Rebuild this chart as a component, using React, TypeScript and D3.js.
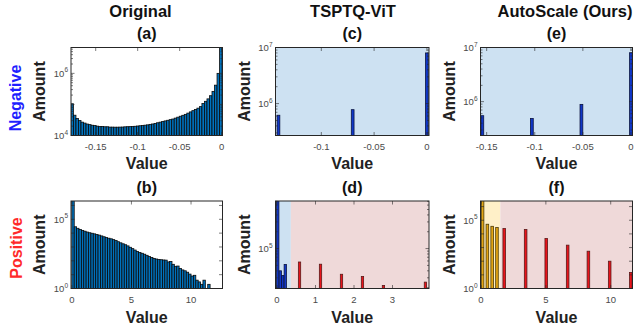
import * as d3 from "d3";

// ---- (a) Original, negative activations: histogram
const negStart = -0.1795;
const negBinWidth = 0.003;
const negCounts = [
  105000, 45000, 35500, 30200, 26900, 25100, 23400, 22400, 21400, 20900,
  20000, 19500, 19500, 19100, 19100, 18600, 18600, 18500, 18500, 18600,
  18700, 19000, 19200, 19300, 19600, 19800, 20200, 20600, 21000, 21500,
  22000, 22800, 23500, 24500, 25700, 26900, 28200, 29500, 30900, 32400,
  33900, 36300, 38900, 41700, 44700, 47900, 52500, 57500, 63100, 69200,
  75900, 85100, 107000, 126000, 151000, 191000, 263000, 417000, 1000000, 8000000,
];

// ---- (b) Original, positive activations: histogram
const posStart = 0;
const posBinWidth = 0.2;
const posCounts = [
  3000000, 28800, 22400, 18600, 15800, 13800, 12000, 10700, 9800, 8900,
  8100, 7200, 6300, 5500, 4800, 4300, 3900, 3400, 2900, 2400,
  2000, 1700, 1450, 1200, 950, 760, 600, 480, 400, 350,
  300, 250, 205, 175, 150, 135, 123, 120, 115, 112,
  83, 89, 56, 40, 42, 28, 22, 19, 15, 11,
  8, 9, 4, 3, 2, 4, 1, 2,
];

// ---- (c) TSPTQ-ViT, negative
const tsNegLevels = [-0.1406, -0.0703, 0];
const tsNegCounts = [620000, 780000, 8000000];

// ---- (d) TSPTQ-ViT, positive
const tsPosSplit = 0.36;
const tsPosLowLevels = [0.02, 0.085, 0.15, 0.215];
const tsPosLowCounts = [1000000, 40000, 33000, 52000];
const tsPosHighLevels = [0.585, 1.13, 1.675, 2.22, 2.765, 3.855];
const tsPosHighCounts = [57500, 52500, 34700, 31600, 21900, 25100];

// ---- (e) AutoScale, negative
const asNegLevels = [-0.1545, -0.103, -0.0515, 0];
const asNegCounts = [550000, 490000, 890000, 8000000];

// ---- (f) AutoScale, positive
const asPosSplit = 1.49;
const asPosLowLevels = [0.12, 0.49, 0.86, 1.23];
const asPosLowCounts = [3000000, 51000, 36000, 29000];
const asPosHighLevels = [1.79, 3.44, 5.03, 6.68, 8.28, 9.92, 11.55];
const asPosHighCounts = [24500, 21000, 4600, 1500, 540, 100, 15];

// axis settings
const xDomA = [-0.1794, 0.001];
const xDomB = [-0.07, 12.64];
const xDomC = [-0.1434, 0.002];
const xDomD = [-0.039, 3.948];
const xDomE = [-0.1564, 0.0016];
const xDomF = [-0.04, 11.68];
const yDomA = [1e4, 6.8e6];
const yDomB = [1, 2.1e6];
const yDomC = [2.7e5, 1e7];
const yDomD = [19300, 7.1e5];
const yDomE = [2.37e5, 1e7];
const yDomF = [1, 2.57e6];
const negTicks = [-0.15, -0.1, -0.05, 0];
const posTicksWide = [0, 5, 10];
const posTicksNarrow = [0, 1, 2, 3];

const titles = ["Original", "TSPTQ-ViT", "AutoScale (Ours)"];
const panelTags = [["(a)", "(b)"], ["(c)", "(d)"], ["(e)", "(f)"]];

const FONT = "'Liberation Sans', Arial, sans-serif";
const HIST_FILL = "#0072BD";
const BLUE_BAR = "#1037c8";
const RED_BAR = "#e8141b";
const GOLD_BAR = "#e3a514";
const BG_BLUE = "#cde1f2";
const BG_PINK = "#efd9d9";
const BG_YELLOW = "#fff0c8";

const colL = [71, 275.5, 480.5];
const colR = [222.5, 429, 632.5];
const rowT = [47.5, 201];
const rowB = [135.5, 288.5];

type Bar = { x0: number; x1: number; count: number; fill: string; stroke: string };
type Region = { from: number; to: number; fill: string };

function histBars(start: number, w: number, counts: number[]): Bar[] {
  return counts.map((c, i) => ({
    x0: start + i * w,
    x1: start + (i + 1) * w,
    count: c,
    fill: HIST_FILL,
    stroke: "#0a0a0a",
  }));
}

function levelBars(levels: number[], counts: number[], w: number, fill: string, stroke: string): Bar[] {
  return levels.map((v, i) => ({ x0: v - w / 2, x1: v + w / 2, count: counts[i], fill, stroke }));
}

interface PanelProps {
  id: string;
  col: number;
  row: number;
  xDomain: number[];
  yDomain: number[];
  xTicks: number[];
  yLabelExps: number[];
  bars: Bar[];
  regions?: Region[];
}

function Panel({ id, col, row, xDomain, yDomain, xTicks, yLabelExps, bars, regions = [] }: PanelProps) {
  const l = colL[col], r = colR[col], t = rowT[row], b = rowB[row];
  const x = d3.scaleLinear().domain(xDomain).range([l, r]);
  const y = d3.scaleLog().domain(yDomain).range([b, t]);
  const lo = Math.floor(Math.log10(yDomain[0]));
  const hi = Math.ceil(Math.log10(yDomain[1]));
  const dense = Math.log10(yDomain[1] / yDomain[0]) < 3.5;
  const yTicks: { v: number; major: boolean }[] = [];
  for (let n = lo; n <= hi; n++) {
    for (let k = 1; k <= (dense ? 9 : 1); k++) {
      const v = k * Math.pow(10, n);
      if (v >= yDomain[0] * 0.999 && v <= yDomain[1] * 1.001) yTicks.push({ v, major: k === 1 });
    }
  }
  const tc = "#262626";
  return (
    <g>
      <defs>
        <clipPath id={id}>
          <rect x={l} y={t} width={r - l} height={b - t} />
        </clipPath>
      </defs>
      <g clipPath={`url(#${id})`}>
        {regions.map((g, i) => (
          <rect key={i} x={x(g.from)} y={t} width={x(g.to) - x(g.from)} height={b - t} fill={g.fill} />
        ))}
        {bars
          .filter((d) => d.count > yDomain[0])
          .map((d, i) => {
            const top = y(d.count);
            return (
              <rect
                key={i}
                x={x(d.x0)}
                y={top}
                width={x(d.x1) - x(d.x0)}
                height={b - top}
                fill={d.fill}
                stroke={d.stroke}
                strokeWidth={0.8}
              />
            );
          })}
      </g>
      {yTicks.map((tk, i) => {
        const len = tk.major ? 3.5 : 2;
        const yy = y(tk.v);
        return (
          <g key={i} stroke={tc} strokeWidth={0.6}>
            <line x1={l} x2={l + len} y1={yy} y2={yy} />
            <line x1={r} x2={r - len} y1={yy} y2={yy} />
          </g>
        );
      })}
      {xTicks.map((v, i) => (
        <g key={i}>
          <line x1={x(v)} x2={x(v)} y1={b} y2={b - 3.5} stroke={tc} strokeWidth={0.6} />
          <line x1={x(v)} x2={x(v)} y1={t} y2={t + 3.5} stroke={tc} strokeWidth={0.6} />
          <text x={x(v)} y={b + 14.5} textAnchor="middle" fontSize={9.5} fill="#4a4a4a" fontFamily={FONT}>
            {String(v)}
          </text>
        </g>
      ))}
      {yLabelExps.map((e) => (
        <text key={e} x={l - 3} y={y(Math.pow(10, e)) + 3.5} textAnchor="end" fontSize={9.5} fill="#4a4a4a" fontFamily={FONT}>
          10
          <tspan dy={-4.5} fontSize={6.5}>
            {e}
          </tspan>
        </text>
      ))}
      <rect x={l} y={t} width={r - l} height={b - t} fill="none" stroke={tc} strokeWidth={1} />
    </g>
  );
}

export default function App() {
  const amountX = [45, 250, 455];
  return (
    <svg width={640} height={327} style={{ position: "absolute", left: 0, top: 0, background: "#fff" }} fontFamily={FONT}>
      <Panel id="pa" col={0} row={0} xDomain={xDomA} yDomain={yDomA} xTicks={negTicks} yLabelExps={[4, 6]}
        bars={histBars(negStart, negBinWidth, negCounts)} />
      <Panel id="pb" col={0} row={1} xDomain={xDomB} yDomain={yDomB} xTicks={posTicksWide} yLabelExps={[0, 5]}
        bars={histBars(posStart, posBinWidth, posCounts)} />
      <Panel id="pc" col={1} row={0} xDomain={xDomC} yDomain={yDomC} xTicks={negTicks.slice(1)} yLabelExps={[6, 7]}
        regions={[{ from: xDomC[0], to: xDomC[1], fill: BG_BLUE }]}
        bars={levelBars(tsNegLevels, tsNegCounts, 0.0026, BLUE_BAR, "#0b1440")} />
      <Panel id="pd" col={1} row={1} xDomain={xDomD} yDomain={yDomD} xTicks={posTicksNarrow} yLabelExps={[5]}
        regions={[
          { from: xDomD[0], to: tsPosSplit, fill: BG_BLUE },
          { from: tsPosSplit, to: xDomD[1], fill: BG_PINK },
        ]}
        bars={[
          ...levelBars(tsPosLowLevels, tsPosLowCounts, 0.06, BLUE_BAR, "#0b1440"),
          ...levelBars(tsPosHighLevels, tsPosHighCounts, 0.06, RED_BAR, "#5c1a1a"),
        ]} />
      <Panel id="pe" col={2} row={0} xDomain={xDomE} yDomain={yDomE} xTicks={negTicks} yLabelExps={[6, 7]}
        regions={[{ from: xDomE[0], to: xDomE[1], fill: BG_BLUE }]}
        bars={levelBars(asNegLevels, asNegCounts, 0.0029, BLUE_BAR, "#0b1440")} />
      <Panel id="pf" col={2} row={1} xDomain={xDomF} yDomain={yDomF} xTicks={posTicksWide} yLabelExps={[0, 5]}
        regions={[
          { from: xDomF[0], to: asPosSplit, fill: BG_YELLOW },
          { from: asPosSplit, to: xDomF[1], fill: BG_PINK },
        ]}
        bars={[
          ...levelBars(asPosLowLevels, asPosLowCounts, 0.2, GOLD_BAR, "#4d3b06"),
          ...levelBars(asPosHighLevels, asPosHighCounts, 0.2, RED_BAR, "#5c1a1a"),
        ]} />

      {/* column titles and panel tags */}
      {titles.map((s, i) => (
        <text key={s} x={[140.5, 353, 565][i]} y={17} textAnchor="middle" fontSize={16.5} fontWeight="bold" fill="#111">
          {s}
        </text>
      ))}
      {panelTags.map((tags, i) =>
        tags.map((s, j) => (
          <text key={s} x={(colL[i] + colR[i]) / 2} y={j === 0 ? 39 : 192.5} textAnchor="middle" fontSize={16} fontWeight="bold" fill="#111">
            {s}
          </text>
        ))
      )}

      {/* axis labels */}
      {[0, 1, 2].map((i) => (
        <g key={i}>
          <text x={(colL[i] + colR[i]) / 2} y={168.5} textAnchor="middle" fontSize={16} fontWeight="bold" fill="#222">Value</text>
          <text x={(colL[i] + colR[i]) / 2} y={323} textAnchor="middle" fontSize={16} fontWeight="bold" fill="#222">Value</text>
          {[0, 1].map((j) => (
            <text key={j} transform={`translate(${amountX[i]},${(rowT[j] + rowB[j]) / 2}) rotate(-90)`} textAnchor="middle"
              fontSize={16} fontWeight="bold" fill="#222">
              Amount
            </text>
          ))}
        </g>
      ))}
      <text transform="translate(21,98) rotate(-90)" textAnchor="middle" fontSize={16} fontWeight="bold" fill="#1f1fff">Negative</text>
      <text transform="translate(22,248) rotate(-90)" textAnchor="middle" fontSize={16} fontWeight="bold" fill="#ff2a2a">Positive</text>
    </svg>
  );
}
